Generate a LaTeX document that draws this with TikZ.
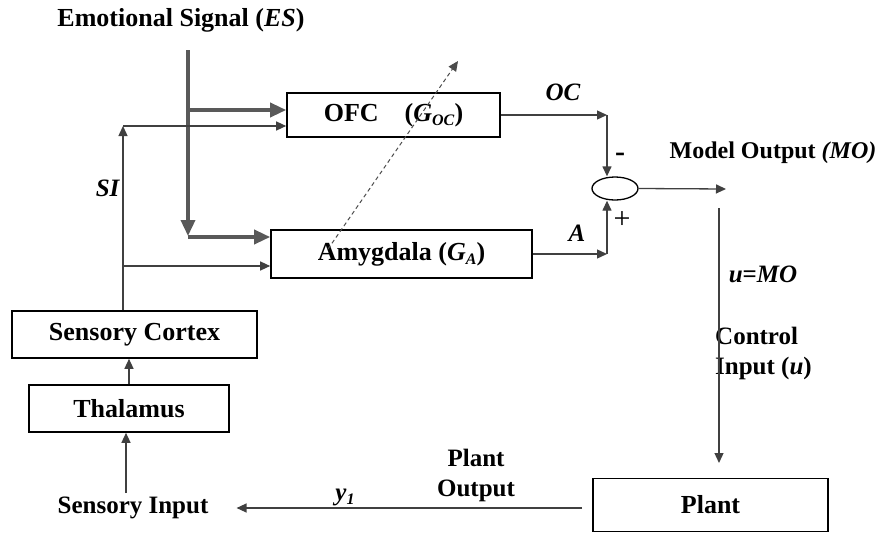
\documentclass[tikz,border=0pt]{standalone}
\usepackage{fontspec}
\setmainfont{Liberation Serif}
\usetikzlibrary{arrows.meta,shapes.geometric}
\newcommand\lowsub[1]{\raisebox{-0.35ex}{\fontsize{16}{16}\selectfont #1}}
\begin{document}
\begin{tikzpicture}[x=1pt,y=-1pt,
  every node/.style={font=\fontsize{25}{30}\selectfont\bfseries},
  big/.style={font=\fontsize{26}{30}\selectfont\bfseries},
  blk/.style={draw,line width=1.6pt,inner sep=0pt,big},
  ln/.style={line width=1.3pt,draw=black!75,-{Triangle[length=10pt,width=9pt]}},
  thk/.style={line width=3.5pt,draw=black!65,-{Triangle[length=16pt,width=14pt]}},
  dsh/.style={line width=1pt,dash pattern=on 4pt off 3pt,draw=black!70,-{Triangle[length=10pt,width=9pt]}},
  lbl/.style={inner sep=0pt}
]
\useasboundingbox (0,0) rectangle (884,533);

% boxes
\node[blk,minimum width=213pt,minimum height=44pt] (ofc) at (393.5,115) {OFC\quad(\textit{G}\lowsub{\textit{OC}})};
\node[blk,minimum width=261pt,minimum height=48pt] (amy) at (401.5,254) {Amygdala (\textit{G}\lowsub{\textit{A}})};
\node[blk,minimum width=245pt,minimum height=47pt] (sc) at (134.5,334.5) {Sensory Cortex};
\node[blk,minimum width=200pt,minimum height=47pt] (thal) at (129,408.5) {Thalamus};
\node[blk,minimum width=235pt,minimum height=53pt] (plant) at (710.5,505) {Plant};
\node[draw,line width=1.3pt,ellipse,minimum width=46pt,minimum height=23pt,inner sep=0pt] (sum) at (615,188.5) {};

% text labels
\node[lbl,big] (eslbl) at (181,20) {Emotional Signal (\textit{ES})};
\node[lbl] (si) at (108,188) {\textit{SI}};
\node[lbl] (oc) at (563,92) {\textit{OC}};
\node[lbl,font=\fontsize{30}{30}\selectfont\bfseries] (minus) at (620,157) {-};
\node[lbl] (alab) at (577,233) {\textit{A}};
\node[lbl,font=\fontsize{30}{30}\selectfont] (plus) at (622,220) {+};
\node[lbl,font=\fontsize{24}{30}\selectfont\bfseries] (molbl) at (773,153) {Model Output \textit{(MO)}};
\node[lbl] (ulbl) at (763,274) {\textit{u}=\textit{MO}};
\node[lbl,align=left,anchor=west] (cin) at (715,353) {Control\\Input (\textit{u})};
\node[lbl,align=center] (polbl) at (476,475) {Plant\\Output};
\node[lbl] (y1) at (345,497) {\textit{y}\lowsub{\textit{1}}};
\node[lbl] (sin) at (133,508) {Sensory Input};

% coordinates
\coordinate (es) at (188,50);
\coordinate (esm) at (188,110);
\coordinate (esb) at (188,236);
\coordinate (siup) at (123,126);
\coordinate (silow) at (123,266);
\coordinate (ocj) at (607,115);
\coordinate (aj) at (607,254);
\coordinate (mo) at (726,189);
\coordinate (us) at (719,208);
\coordinate (ue) at (719,463);
\coordinate (thin) at (126,493);
\coordinate (d1) at (328,249);
\coordinate (d2) at (458,61);

% emotional signal (thick)
\draw[thk] (es) -- (esb);
\draw[thk] (esm) -- (esm -| ofc.west);
\draw[thk] (esb |- 0,237) -- (esb |- 0,237 -| amy.west);

% sensory path
\draw[ln] (thin) -- (thin |- thal.south);
\draw[ln] (thal.north) -- (thal.north |- sc.south);
\draw[ln] (siup |- sc.north) -- (siup);
\draw[ln] (siup) -- (siup -| ofc.west);
\draw[ln] (silow) -- (silow -| amy.west);

% comparator
\draw[ln] (ofc.east) -- (ocj);
\draw[ln] (ocj) -- (ocj |- sum.north);
\draw[ln] (amy.east) -- (aj);
\draw[ln] (aj) -- (aj |- sum.south);
\draw[ln] (sum.east) -- (mo);

% control loop
\draw[ln] (us) -- (ue);
\draw[ln,shorten <=10pt] (plant.west |- sin.east) -- ([xshift=28pt]sin.east);

% dashed adaptation arrow
\draw[dsh] (d1) -- (d2);
\end{tikzpicture}
\end{document}
